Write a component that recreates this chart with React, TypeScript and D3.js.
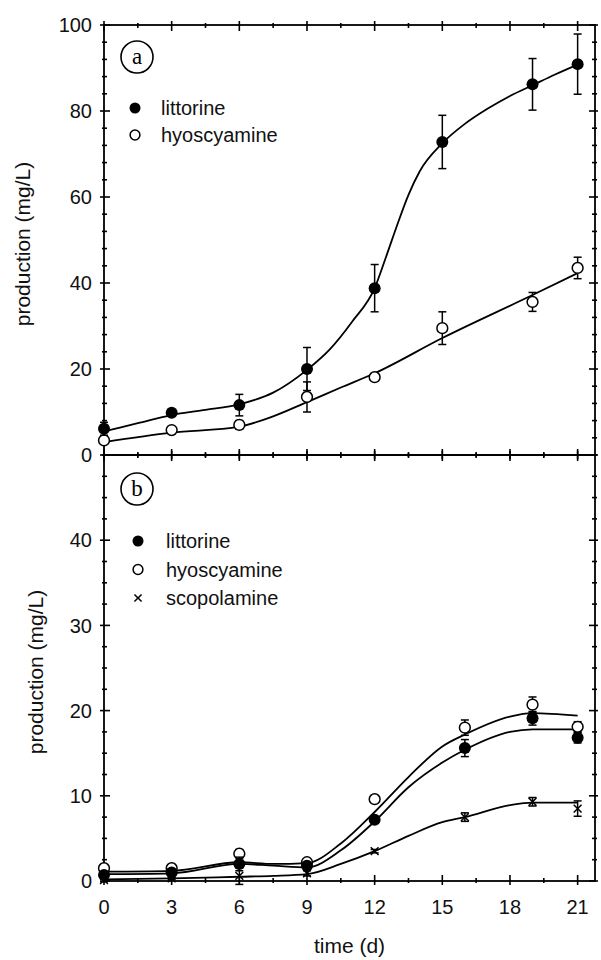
import React from "react";
import * as d3 from "d3";

// ---------- data ----------
const daysA = [0, 3, 6, 9, 12, 15, 19, 21];
const litA = [6.1, 9.8, 11.6, 20.0, 38.8, 72.8, 86.2, 90.9];
const litAErr = [1.5, 0.6, 2.5, 5.0, 5.5, 6.2, 6.0, 7.0];
const hyoA = [3.4, 5.8, 7.0, 13.5, 18.1, 29.5, 35.6, 43.5];
const hyoAErr = [0.6, 0.5, 1.0, 3.5, 0.6, 3.8, 2.2, 2.5];

const fitDaysLitA = [0, 1.5, 3, 4.5, 6, 7.5, 9, 10, 11, 12, 12.5, 13, 13.5, 14, 15, 16, 17, 18, 19, 20, 21];
const fitLitA = [5.5, 7.4, 9.3, 10.5, 11.8, 14.5, 19.8, 24.5, 31, 38.8, 46, 53.5, 60.5, 66, 72.5, 77, 80.5, 83.5, 86, 88.5, 90.8];
const fitDaysHyoA = [0, 3, 6, 7.5, 9, 10.5, 12, 15, 19, 21];
const fitHyoA = [3.0, 5.2, 6.6, 9.0, 12.3, 15.7, 19.0, 27.2, 37.2, 42.3];

const daysB = [0, 3, 6, 9, 12, 16, 19, 21];
const litB = [0.7, 1.0, 2.0, 1.8, 7.2, 15.6, 19.1, 16.8];
const litBErr = [0.3, 0.2, 0.8, 0.3, 0.3, 1.0, 0.8, 0.6];
const hyoB = [1.5, 1.5, 3.2, 2.2, 9.6, 18.0, 20.7, 18.1];
const hyoBErr = [0.3, 0.2, 0.5, 0.3, 0.3, 0.9, 0.9, 0.6];
const scoB = [0.1, 0.3, 0.6, 0.9, 3.5, 7.5, 9.3, 8.5];
const scoBErr = [0.2, 0.1, 1.0, 0.3, 0.2, 0.5, 0.5, 0.9];

const fitDaysB = [0, 3, 6, 7.5, 9, 10.5, 12, 13.5, 15, 16, 18, 19, 21];
const fitHyoB = [1.1, 1.2, 2.2, 2.0, 2.1, 4.4, 8.1, 12.2, 15.8, 17.2, 19.3, 19.7, 19.4];
const fitLitB = [0.8, 0.9, 2.0, 1.8, 1.6, 3.6, 7.0, 11.0, 13.9, 15.4, 17.5, 17.8, 17.8];
const fitScoB = [0.2, 0.3, 0.5, 0.6, 0.8, 2.0, 3.5, 5.3, 6.9, 7.5, 8.9, 9.2, 9.2];

const xTicks = [0, 3, 6, 9, 12, 15, 18, 21];
const yTicksA = [0, 20, 40, 60, 80, 100];
const yTicksB = [0, 10, 20, 30, 40];

const legendA = ["littorine", "hyoscyamine"];
const legendB = ["littorine", "hyoscyamine", "scopolamine"];

// ---------- layout ----------
const W = 601;
const H = 960;
const L = 104;
const R = 595;
const topA = 25;
const mid = 455;
const botB = 881;
const FONT = "Liberation Sans, Arial, sans-serif";

const x = d3.scaleLinear().domain([0, 21.77]).range([L, R]);
const yA = d3.scaleLinear().domain([0, 100]).range([mid, topA]);
const yB = d3.scaleLinear().domain([0, 50]).range([botB, mid]);

function Marker({ cx, cy, type, r = 6 }: { cx: number; cy: number; type: string; r?: number }) {
  if (type === "filled") return <circle cx={cx} cy={cy} r={r} fill="#000" />;
  if (type === "open") return <circle cx={cx} cy={cy} r={r - 0.6} fill="#fff" stroke="#000" strokeWidth={1.5} />;
  const s = r * 0.65;
  return (
    <g stroke="#000" strokeWidth={1.5}>
      <line x1={cx - s} y1={cy - s} x2={cx + s} y2={cy + s} />
      <line x1={cx - s} y1={cy + s} x2={cx + s} y2={cy - s} />
    </g>
  );
}

function Series({ days, vals, errs, y, type }: any) {
  return (
    <g>
      {days.map((d: number, i: number) => {
        const cx = x(d);
        const y1 = y(vals[i] + errs[i]);
        const y2 = y(vals[i] - errs[i]);
        return (
          <g key={i} stroke="#000" strokeWidth={1.5}>
            <line x1={cx} x2={cx} y1={y1} y2={y2} />
            <line x1={cx - 4} x2={cx + 4} y1={y1} y2={y1} />
            <line x1={cx - 4} x2={cx + 4} y1={y2} y2={y2} />
          </g>
        );
      })}
      {days.map((d: number, i: number) => (
        <Marker key={"m" + i} cx={x(d)} cy={y(vals[i])} type={type} />
      ))}
    </g>
  );
}

function Fit({ days, vals, y }: any) {
  const line = d3
    .line<number>()
    .x((_, i) => x(days[i]))
    .y((v) => y(v))
    .curve(d3.curveMonotoneX);
  return <path d={line(vals) || ""} fill="none" stroke="#000" strokeWidth={1.8} />;
}

function Frame({ y, top, bottom, major, minorStep, max }: any) {
  const minors = d3.range(0, max + 0.001, minorStep);
  const xMin = d3.range(0, 21.01, 1.5);
  return (
    <g stroke="#000" strokeWidth={1.6}>
      <rect x={L} y={top} width={R - L} height={bottom - top} fill="none" strokeWidth={1.8} />
      {minors.map((v: number, i: number) => {
        const isMajor = major.includes(v);
        const a = isMajor ? 6 : 3;
        return (
          <g key={"y" + i}>
            <line x1={L - (isMajor ? 4 : 2)} x2={L + a} y1={y(v)} y2={y(v)} />
            <line x1={R - a} x2={R + (isMajor ? 3 : 2)} y1={y(v)} y2={y(v)} />
          </g>
        );
      })}
      {xMin.map((d: number, i: number) => {
        const isMajor = d % 3 === 0;
        const a = isMajor ? 6 : 3;
        return (
          <g key={"x" + i}>
            <line x1={x(d)} x2={x(d)} y1={bottom - a} y2={bottom + (isMajor ? 4 : 2)} />
            <line x1={x(d)} x2={x(d)} y1={top - (isMajor ? 4 : 2)} y2={top + a} />
          </g>
        );
      })}
      {major.map((v: number) => (
        <text
          key={"l" + v}
          x={L - 12}
          y={y(v)}
          dy="0.36em"
          textAnchor="end"
          fontFamily={FONT}
          fontSize={20}
          stroke="none"
          fill="#111"
        >
          {v}
        </text>
      ))}
    </g>
  );
}

function PanelLabel({ cx, cy, t }: any) {
  return (
    <g>
      <circle cx={cx} cy={cy} r={16} fill="none" stroke="#000" strokeWidth={1.6} />
      <text x={cx} y={cy} dy="0.3em" textAnchor="middle" fontFamily="Liberation Serif, Times New Roman, serif" fontSize={23} fill="#000">
        {t}
      </text>
    </g>
  );
}

function Legend({ items, types, x0, y0, step, tx }: any) {
  return (
    <g>
      {items.map((s: string, i: number) => (
        <g key={s}>
          <Marker cx={x0} cy={y0 + i * step} type={types[i]} r={5.5} />
          <text x={tx} y={y0 + i * step} dy="0.36em" fontFamily={FONT} fontSize={20} fill="#111">
            {s}
          </text>
        </g>
      ))}
    </g>
  );
}

export default function App() {
  return (
    <svg width={W} height={H} style={{ position: "absolute", left: 0, top: 0, background: "#fff" }}>
      <rect x={0} y={0} width={W} height={H} fill="#fff" />
      {/* panel a */}
      <Frame y={yA} top={topA} bottom={mid} major={yTicksA} minorStep={4} max={100} />
      <Fit days={fitDaysLitA} vals={fitLitA} y={yA} />
      <Fit days={fitDaysHyoA} vals={fitHyoA} y={yA} />
      <Series days={daysA} vals={hyoA} errs={hyoAErr} y={yA} type="open" />
      <Series days={daysA} vals={litA} errs={litAErr} y={yA} type="filled" />
      <PanelLabel cx={137} cy={57} t="a" />
      <Legend items={legendA} types={["filled", "open"]} x0={135} y0={108} step={27} tx={161} />
      <text
        transform={`translate(30,244) rotate(-90)`}
        textAnchor="middle"
        fontFamily={FONT}
        fontSize={21}
        fill="#111"
      >
        production (mg/L)
      </text>

      {/* panel b */}
      <Frame y={yB} top={mid} bottom={botB} major={yTicksB} minorStep={2.5} max={50} />
      <Fit days={fitDaysB} vals={fitHyoB} y={yB} />
      <Fit days={fitDaysB} vals={fitLitB} y={yB} />
      <Fit days={fitDaysB} vals={fitScoB} y={yB} />
      <Series days={daysB} vals={scoB} errs={scoBErr} y={yB} type="cross" />
      <Series days={daysB} vals={hyoB} errs={hyoBErr} y={yB} type="open" />
      <Series days={daysB} vals={litB} errs={litBErr} y={yB} type="filled" />
      <PanelLabel cx={137} cy={489} t="b" />
      <Legend items={legendB} types={["filled", "open", "cross"]} x0={138} y0={541} step={28.5} tx={166} />
      <text
        transform={`translate(43,672) rotate(-90)`}
        textAnchor="middle"
        fontFamily={FONT}
        fontSize={21}
        fill="#111"
      >
        production (mg/L)
      </text>

      {xTicks.map((d) => (
        <text key={d} x={x(d)} y={907} dy="0.36em" textAnchor="middle" fontFamily={FONT} fontSize={20} fill="#111">
          {d}
        </text>
      ))}
      <text x={(L + R) / 2} y={953} textAnchor="middle" fontFamily={FONT} fontSize={21} fill="#111">
        time (d)
      </text>
    </svg>
  );
}
